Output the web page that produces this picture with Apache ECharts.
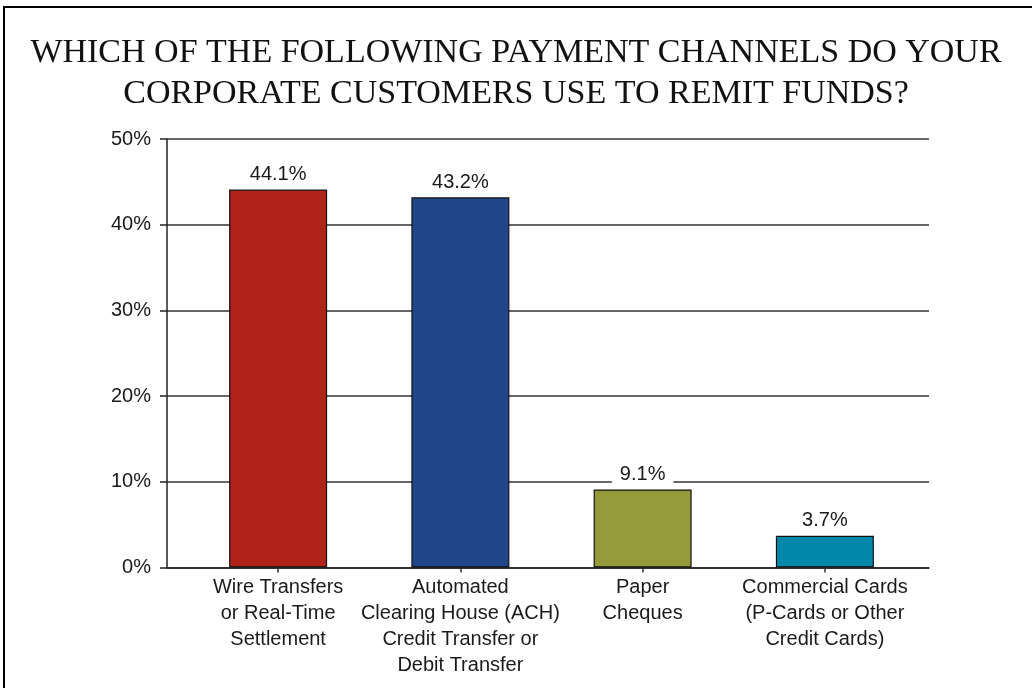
<!DOCTYPE html>
<html>
<head>
<meta charset="utf-8">
<script src="https://cdn.jsdelivr.net/npm/echarts@6/dist/echarts.min.js"></script>
<style>
html,body{margin:0;padding:0;background:#fff;}
#c{width:1032px;height:688px;}
</style>
</head>
<body>
<div id="c"></div>
<script>
const titleText = 'WHICH OF THE FOLLOWING PAYMENT CHANNELS DO YOUR\nCORPORATE CUSTOMERS USE TO REMIT FUNDS?';
const categories = [
  'Wire Transfers\nor Real-Time\nSettlement',
  'Automated\nClearing House (ACH)\nCredit Transfer or\nDebit Transfer',
  'Paper\nCheques',
  'Commercial Cards\n(P-Cards or Other\nCredit Cards)'
];
const values = [44.1, 43.2, 9.1, 3.7];
const barColors = ['#B0231A', '#21468B', '#959B3B', '#0087A9'];
const yMin = 0, yMax = 50, yInterval = 10;

const font = '"Liberation Sans", Arial, sans-serif';
const textColor = '#1a1a1a';

const chart = echarts.init(document.getElementById('c'), null, {renderer: 'canvas'});
chart.setOption({
  animation: false,
  backgroundColor: '#fff',
  graphic: [{
    type: 'polyline',
    shape: {points: [[4, 688], [4, 7], [1032, 7]]},
    style: {stroke: '#000', lineWidth: 2, fill: null},
    silent: true
  }, {
    type: 'text',
    x: 516, y: 33,
    style: {
      text: titleText,
      align: 'center', verticalAlign: 'top',
      fontFamily: '"Liberation Serif", "Times New Roman", serif',
      fontWeight: 'normal', fontSize: 34, lineHeight: 41, fill: '#111'
    },
    silent: true
  }],
  grid: [
    {left: 167, right: 103, top: 139, bottom: 120.5},
    {left: 187, right: 116, top: 139, bottom: 120.5}
  ],
  xAxis: [
    {
      gridIndex: 0, type: 'category', data: [''],
      axisLine: {show: true, lineStyle: {color: '#222', width: 1.5}},
      axisTick: {show: false}, axisLabel: {show: false}
    },
    {
      gridIndex: 1, type: 'category', data: categories,
      axisLine: {show: false},
      axisTick: {show: true, alignWithLabel: true, length: 5, lineStyle: {color: '#333', width: 1.5}},
      axisLabel: {
        interval: 0, margin: 7, fontFamily: font, fontSize: 20, lineHeight: 26,
        color: textColor
      }
    }
  ],
  yAxis: [
    {
      gridIndex: 0, type: 'value', min: yMin, max: yMax, interval: yInterval,
      axisLine: {show: true, lineStyle: {color: '#222', width: 1.5}},
      axisTick: {show: true, length: 7, lineStyle: {color: '#222', width: 1.5}},
      splitLine: {show: true, lineStyle: {color: '#333', width: 1.5}},
      axisLabel: {
        formatter: '{value}%', margin: 16, fontFamily: font, fontSize: 20, color: textColor
      }
    },
    {
      gridIndex: 1, type: 'value', min: yMin, max: yMax, interval: yInterval, show: false,
      splitLine: {show: false}
    }
  ],
  series: [{
    type: 'bar',
    xAxisIndex: 1, yAxisIndex: 1,
    barWidth: 98,
    data: values.map((v, i) => ({
      value: v,
      itemStyle: {color: barColors[i], borderColor: '#111', borderWidth: 1.2}
    })),
    label: {
      show: true, position: 'top', distance: 4,
      formatter: p => p.value.toFixed(1) + '%',
      fontFamily: font, fontSize: 20, lineHeight: 22, color: textColor,
      backgroundColor: '#fff', padding: [0, 8]
    }
  }]
});
</script>
</body>
</html>
